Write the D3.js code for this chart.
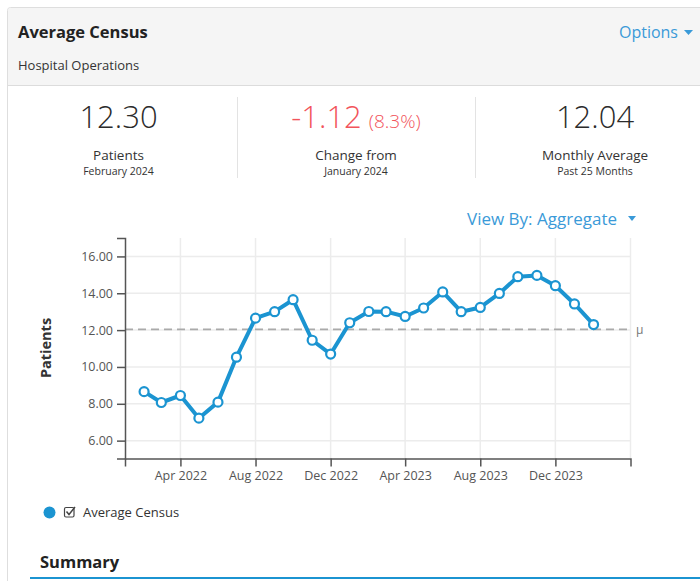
<!DOCTYPE html>
<html><head><meta charset="utf-8">
<script src="https://cdn.jsdelivr.net/npm/d3@7"></script>
<style>
html,body{margin:0;padding:0;background:#fff;}
svg{display:block;font-family:"Open Sans","Noto Sans",sans-serif;}
</style></head>
<body>
<svg id="c" width="700" height="581"></svg>
<script>
// ---- data ----
const months = ["2022-02","2022-03","2022-04","2022-05","2022-06","2022-07","2022-08","2022-09","2022-10","2022-11","2022-12",
  "2023-01","2023-02","2023-03","2023-04","2023-05","2023-06","2023-07","2023-08","2023-09","2023-10","2023-11","2023-12",
  "2024-01","2024-02"];
const census = [8.66,8.07,8.45,7.22,8.09,10.53,12.65,13.00,13.65,11.45,10.70,
  12.40,13.01,13.00,12.74,13.20,14.07,13.00,13.23,13.99,14.90,14.97,14.41,
  13.42,12.30];
const xTickLabels = ["Apr 2022","Aug 2022","Dec 2022","Apr 2023","Aug 2023","Dec 2023"];
const yTickValues = [6,8,10,12,14,16];
const kpiMain = ["12.30","-1.12","12.04"];
const kpiExtra = ["","(8.3%)",""];
const kpiLabel = ["Patients","Change from","Monthly Average"];
const kpiSub = ["February 2024","January 2024","Past 25 Months"];
const xDomainLabels = ["2022-01","2024-04"];
const yDomain = [5.03, 17.0];

const blue = "#1b94d1", linkBlue = "#3a9ad8", red = "#f2545b";
const svg = d3.select("#c");
const parseM = d3.timeParse("%Y-%m");
const parseT = d3.timeParse("%b %Y");

// ---- card ----
svg.append("rect").attr("x",7.5).attr("y",7.5).attr("width",720).attr("height",600)
  .attr("rx",3).attr("fill","#fff").attr("stroke","#dedede");
svg.append("path").attr("d","M8,85 L8,11 Q8,8 11,8 L700,8 L700,85 Z").attr("fill","#f5f5f5");
svg.append("line").attr("x1",8).attr("x2",700).attr("y1",85.5).attr("y2",85.5).attr("stroke","#dcdcdc");
svg.append("text").attr("x",18).attr("y",38).attr("font-size",16.5).attr("font-weight",700)
  .attr("fill","#222").text("Average Census");
svg.append("text").attr("x",18).attr("y",70).attr("font-size",13).attr("fill","#333").text("Hospital Operations");
svg.append("text").attr("x",678).attr("y",38).attr("text-anchor","end").attr("font-size",16)
  .attr("fill",linkBlue).text("Options");
svg.append("path").attr("d","M684,30 L693,30 L688.5,35 Z").attr("fill",linkBlue);

// ---- KPIs ----
const centers = [118.5,356,595];
kpiMain.forEach((v,i)=>{
  const t = svg.append("text").attr("x",centers[i]).attr("y",128).attr("text-anchor","middle")
    .attr("font-weight",300).attr("fill", i===1?red:"#2b2b2b");
  t.append("tspan").attr("font-size",31).text(v);
  if(kpiExtra[i]) t.append("tspan").attr("font-size",19).attr("dx",7).text(kpiExtra[i]);
  svg.append("text").attr("x",centers[i]).attr("y",159.5).attr("text-anchor","middle")
    .attr("font-size",13.5).attr("fill","#333").text(kpiLabel[i]);
  svg.append("text").attr("x",centers[i]).attr("y",175).attr("text-anchor","middle")
    .attr("font-size",10.5).attr("fill","#333").text(kpiSub[i]);
});
[237.5,475.5].forEach(x=>svg.append("line").attr("x1",x).attr("x2",x).attr("y1",97).attr("y2",178)
  .attr("stroke","#e3e3e3"));

// ---- View by ----
svg.append("text").attr("x",617).attr("y",224.5).attr("text-anchor","end").attr("font-size",17)
  .attr("fill",linkBlue).text("View By: Aggregate");
svg.append("path").attr("d","M628,216 L636,216 L632,221 Z").attr("fill",linkBlue);

// ---- chart ----
const L=125, R=630.5, T=238, B=458.5;
const x = d3.scaleTime().domain(xDomainLabels.map(parseM)).range([L,R]);
const y = d3.scaleLinear().domain(yDomain).range([B,T]);
const xTicks = xTickLabels.map(parseT);

const grid = svg.append("g").attr("stroke","#ececec").attr("stroke-width",1.5);
yTickValues.forEach(v=>grid.append("line").attr("x1",L).attr("x2",R).attr("y1",y(v)).attr("y2",y(v)));
xTicks.concat([x.domain()[1]]).forEach(d=>grid.append("line").attr("x1",x(d)).attr("x2",x(d)).attr("y1",T).attr("y2",B));

const mean = d3.mean(census);
svg.append("line").attr("x1",L).attr("x2",R).attr("y1",y(mean)).attr("y2",y(mean))
  .attr("stroke","#aaa").attr("stroke-width",1.8).attr("stroke-dasharray","8,5");
svg.append("text").attr("x",636).attr("y",y(mean)+5).attr("font-size",12).attr("fill","#777").text("μ");

const ya = svg.append("g").attr("transform",`translate(${L},0)`)
  .call(d3.axisLeft(y).tickValues(yTickValues).tickFormat(d3.format(".2f")).tickSize(8).tickSizeOuter(8).tickPadding(4));
const xa = svg.append("g").attr("transform",`translate(0,${B})`)
  .call(d3.axisBottom(x).tickValues(xTicks).tickFormat(d3.timeFormat("%b %Y")).tickSize(8).tickSizeOuter(8).tickPadding(3));
[ya,xa].forEach(a=>{
  a.selectAll("path,line").attr("stroke","#555").attr("stroke-width",1.5);
  a.selectAll("text").attr("fill","#555").attr("font-size",12.5).attr("font-family","'Open Sans','Noto Sans',sans-serif");
});
xa.selectAll("text").attr("dy","0.85em");

svg.append("text").attr("transform",`translate(51,348) rotate(-90)`).attr("text-anchor","middle")
  .attr("font-size",14.5).attr("font-weight",700).attr("fill","#333").text("Patients");

const pts = months.map((m,i)=>({d:parseM(m),v:census[i]}));
svg.append("path").datum(pts).attr("fill","none").attr("stroke",blue).attr("stroke-width",4)
  .attr("stroke-linejoin","round")
  .attr("d",d3.line().x(p=>x(p.d)).y(p=>y(p.v)));
svg.selectAll("circle.pt").data(pts).join("circle").attr("class","pt")
  .attr("cx",p=>x(p.d)).attr("cy",p=>y(p.v)).attr("r",4.5)
  .attr("fill","#fff").attr("stroke",blue).attr("stroke-width",2.2);

// ---- legend ----
svg.append("circle").attr("cx",49.5).attr("cy",512.5).attr("r",6).attr("fill",blue);
svg.append("rect").attr("x",64.5).attr("y",507.5).attr("width",9.5).attr("height",9.5).attr("rx",1.5)
  .attr("fill","none").attr("stroke","#444").attr("stroke-width",1.2);
svg.append("path").attr("d","M66.5,511.5 L69,514.5 L75,507").attr("fill","none").attr("stroke","#444").attr("stroke-width",1.5);
svg.append("text").attr("x",83).attr("y",517).attr("font-size",13).attr("fill","#333").text("Average Census");

// ---- summary ----
svg.append("text").attr("x",40).attr("y",568).attr("font-size",16.5).attr("font-weight",700).attr("fill","#222").text("Summary");
svg.append("line").attr("x1",30).attr("x2",700).attr("y1",578).attr("y2",578).attr("stroke",blue).attr("stroke-width",2);
</script>
</body></html>
